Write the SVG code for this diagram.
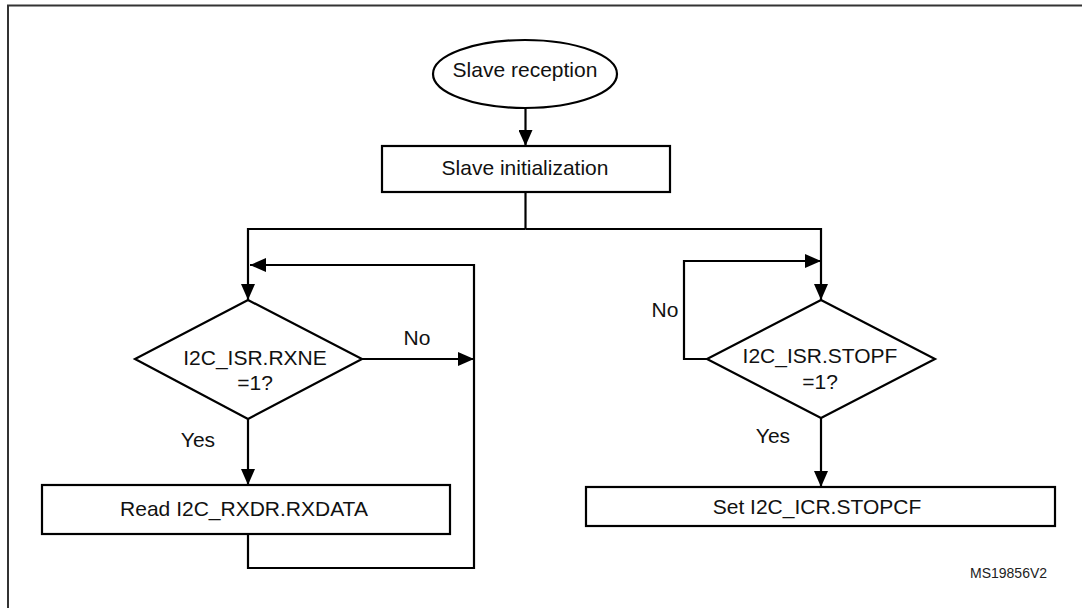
<svg xmlns="http://www.w3.org/2000/svg" width="1082" height="608" viewBox="0 0 1082 608">
<defs>
<marker id="arr" markerUnits="userSpaceOnUse" markerWidth="16" markerHeight="14" refX="16" refY="7" orient="auto">
<path d="M0,0 L16,7 L0,14 z" fill="#000"/>
</marker>
<style>
.shape{fill:#fff;stroke:#000;stroke-width:2.2}
.conn{fill:none;stroke:#000;stroke-width:2.2}
.lbl{font-family:"Liberation Sans",Arial,sans-serif;font-size:21px;fill:#111}
.mid{text-anchor:middle}
.ref{font-family:"Liberation Sans",Arial,sans-serif;font-size:14px;fill:#222}
</style>
</defs>
<rect width="1082" height="608" fill="#fff"/>
<path d="M8,608 V5.5 H1082" fill="none" stroke="#333" stroke-width="2"/>

<g id="connectors">
<path class="conn" d="M525.5,108 V146" marker-end="url(#arr)"/>
<path class="conn" d="M525.5,192 V229"/>
<path class="conn" d="M525.5,229 H248 V300" marker-end="url(#arr)"/>
<path class="conn" d="M525.5,229 H821 V300" marker-end="url(#arr)"/>
<path class="conn" d="M362,359 H474" marker-end="url(#arr)"/>
<path class="conn" d="M248,534 V568 H474 V265 H250" marker-end="url(#arr)"/>
<path class="conn" d="M248,419 V485" marker-end="url(#arr)"/>
<path class="conn" d="M707,359 H684 V261 H821" marker-end="url(#arr)"/>
<path class="conn" d="M821,418 V487" marker-end="url(#arr)"/>
</g>

<g id="start">
<ellipse class="shape" cx="525" cy="74" rx="92" ry="34"/>
<text class="lbl mid" x="525" y="77">Slave reception</text>
</g>
<g id="init">
<rect class="shape" x="382" y="146" width="288" height="46"/>
<text class="lbl mid" x="525" y="175">Slave initialization</text>
</g>
<g id="rxne">
<polygon class="shape" points="248,300 362,359 248,419 135,359"/>
<text class="lbl mid" x="255" y="365">I2C_ISR.RXNE</text>
<text class="lbl mid" x="255" y="390">=1?</text>
</g>
<g id="read">
<rect class="shape" x="42" y="485" width="408" height="49"/>
<text class="lbl mid" x="244" y="516">Read I2C_RXDR.RXDATA</text>
</g>
<g id="stopf">
<polygon class="shape" points="821,300 935,359 821,418 707,359"/>
<text class="lbl mid" x="820" y="363">I2C_ISR.STOPF</text>
<text class="lbl mid" x="820" y="389">=1?</text>
</g>
<g id="setstop">
<rect class="shape" x="586" y="487" width="469" height="39"/>
<text class="lbl mid" x="817" y="514">Set I2C_ICR.STOPCF</text>
</g>
<g id="labels">
<text class="lbl mid" x="417" y="345">No</text>
<text class="lbl mid" x="198" y="447">Yes</text>
<text class="lbl mid" x="665" y="317">No</text>
<text class="lbl mid" x="773" y="443">Yes</text>
<text class="ref" x="970" y="578">MS19856V2</text>
</g>
</svg>
